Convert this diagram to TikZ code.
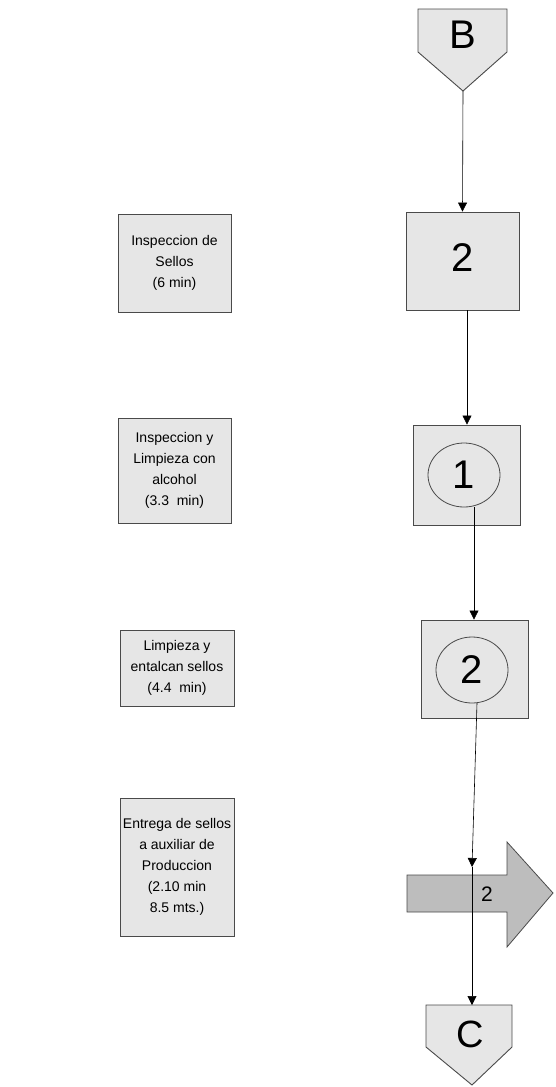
\documentclass[tikz,border=0pt]{standalone}
\usepackage{fontspec}
\setmainfont{Liberation Sans}
\usetikzlibrary{arrows.meta}
\definecolor{boxfill}{HTML}{E6E6E6}
\definecolor{movefill}{HTML}{BDBDBD}
\definecolor{edge}{HTML}{4A4A4A}
\begin{document}
\begin{tikzpicture}[x=1pt,y=-1pt,
  notebox/.style={draw=edge,line width=0.9pt,fill=boxfill,align=center,
    inner sep=0pt,font=\fontsize{14}{21}\selectfont},
  symbox/.style={draw=edge,line width=0.9pt,fill=boxfill,inner sep=0pt},
  bigtxt/.style={font=\fontsize{40}{40}\selectfont,inner sep=0pt},
  link/.style={draw=black,line width=0.6pt,-{Triangle[length=9pt,width=9pt]}}]
\useasboundingbox (0,0) rectangle (555,1087);

% description boxes on the left
\node[notebox,minimum width=113pt,minimum height=98pt] (d1) at (174.5,263)
  {Inspeccion de\\Sellos\\(6 min)};
\node[notebox,minimum width=113pt,minimum height=105pt] (d2) at (174.5,470.5)
  {Inspeccion y\\Limpieza con\\alcohol\\(3.3\ \ min)};
\node[notebox,minimum width=114pt,minimum height=76pt] (d3) at (177,668)
  {Limpieza y\\entalcan sellos\\(4.4\ \ min)};
\node[notebox,minimum width=114pt,minimum height=138pt] (d4) at (177,867)
  {Entrega de sellos\\a auxiliar de\\Produccion\\(2.10 min\\8.5 mts.)};

% off-page connector B
\draw[symbox] (418,9) -- (507,9) -- (507,52) -- (463,91) -- (418,52) -- cycle;
\node[bigtxt] (B) at (463,35) {B};
\coordinate (Btip) at (463,91);

% inspection 2
\node[symbox,minimum width=113pt,minimum height=98pt] (s2) at (462.5,261) {};
\node[bigtxt] (n2) at (463,258) {2};

% operation 1
\node[symbox,minimum width=107pt,minimum height=100pt] (s3) at (466.5,475) {};
\draw[edge,line width=0.8pt] (464,475) ellipse [x radius=36,y radius=32];
\node[bigtxt] (n3) at (464,475) {1};
\coordinate (c1bot) at (474,507);

% operation 2
\node[symbox,minimum width=107pt,minimum height=98pt] (s4) at (474.5,669) {};
\draw[edge,line width=0.8pt] (472,670) ellipse [x radius=36,y radius=33];
\node[bigtxt] (n4) at (472,670) {2};
\coordinate (c2bot) at (477,703);

% transport 2
\draw[draw=edge,line width=0.8pt,fill=movefill]
  (407,875) -- (507,875) -- (507,842) -- (553,893) -- (507,947) -- (507,912)
  -- (407,912) -- cycle;
\node[font=\fontsize{21}{21}\selectfont,inner sep=0pt] (mv) at (487,894) {2};
\coordinate (mvin) at (472,867);

% off-page connector C
\draw[symbox] (426,1005) -- (512,1005) -- (512,1047) -- (472,1085) -- (426,1047) -- cycle;
\node[font=\fontsize{38}{38}\selectfont,inner sep=0pt] (C) at (470,1034) {C};
\coordinate (Ctop) at (472,1005);

% flow connectors
\draw[link] (Btip) -- (s2.north);
\draw[link] (s2.south -| 467,0) -- (s3.north -| 467,0);
\draw[link] (c1bot) -- (s4.north -| c1bot);
\draw[link] (c2bot) -- (mvin);
\draw[link] (mvin) -- (Ctop);
\end{tikzpicture}
\end{document}
